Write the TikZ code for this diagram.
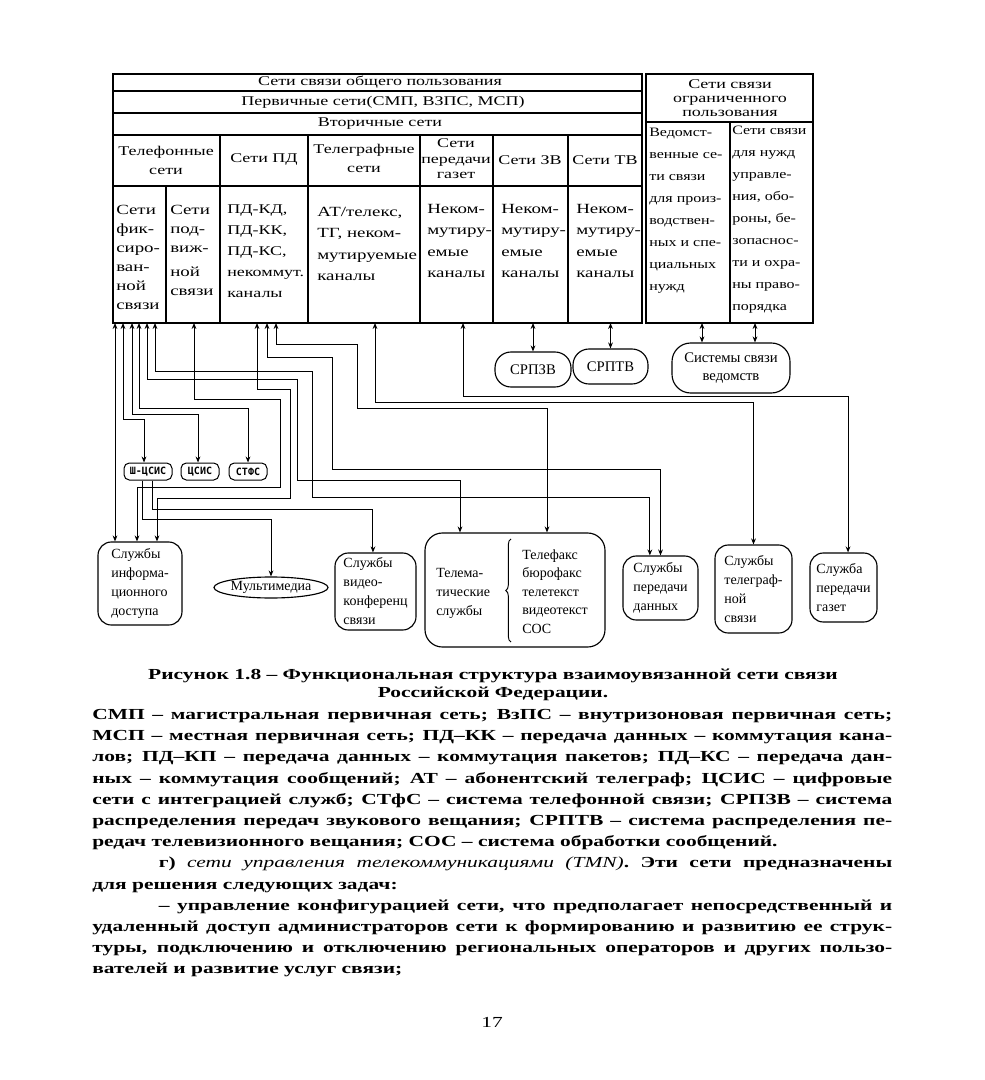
\documentclass[tikz,border=0pt]{standalone}
\usepackage{fontspec}
\setmainfont{Liberation Serif}
\newfontfamily\dfont{Liberation Serif}[FakeStretch=1.35]
\newfontfamily\rfont{Liberation Serif}[FakeStretch=1.25]
\newfontfamily\pfont{Liberation Serif}[FakeStretch=1.4]
\newfontfamily\mfont{DejaVu Sans Mono}
\usetikzlibrary{arrows.meta,shapes.geometric,calc,decorations.pathreplacing}
\begin{document}
\begin{tikzpicture}[x=0.75pt,y=-0.75pt,
  every node/.style={inner sep=0pt},
  tab/.style={line width=0.85pt},
  hd/.style={font={\dfont\fontsize{10}{#1}\selectfont}, align=center},
  hd/.default=14.25,
  cell/.style={font={\dfont\fontsize{10.5}{#1}\selectfont}, align=left, anchor=north west},
  ncell/.style={font={\dfont\fontsize{10}{#1}\selectfont}, align=left, anchor=north west},
  rcell/.style={font={\rfont\fontsize{9.6}{#1}\selectfont}, align=left, anchor=north west},
  bt/.style={font={\fontsize{10.5}{14.25}\selectfont}, align=left},
  rbox/.style={draw, line width=0.85pt, rounded corners=#1},
  rbox/.default=10pt,
  sm/.style={draw, line width=0.75pt, rounded corners=4pt, minimum height=12.75pt, font={\mfont\bfseries\fontsize{7.5}{8}\selectfont}},
  tip/.tip={Stealth[length=4.5pt,width=3.6pt]},
  bi/.style={line width=0.75pt, tip-tip},
  one/.style={line width=0.75pt, -tip}
]
\useasboundingbox[fill=white] (0,0) rectangle (984,1080);

% ---------- public networks table ----------
\draw[tab] (113,74) rectangle (642,323);
\draw[tab] (113,91) -- (642,91) (113,113) -- (642,113) (113,135) -- (642,135) (113,186) -- (642,186);
\draw[tab] (220,135) -- (220,323) (308,135) -- (308,323) (420,135) -- (420,323)
           (493,135) -- (493,323) (568,135) -- (568,323) (166,186) -- (166,323);
\node[hd] (pub) at (380,82) {Сети связи общего пользования};
\node[hd] (prim) at (383,102) {Первичные сети(СМП, ВЗПС, МСП)};
\node[hd] (sec) at (380,124) {Вторичные сети};
\node[hd] (hTel) at (166,160) {Телефонные\\сети};
\node[hd] (hPD) at (264,160) {Сети ПД};
\node[hd] (hTg) at (364,158) {Телеграфные\\сети};
\node[hd=11.6] (hGaz) at (456,159) {Сети\\передачи\\газет};
\node[hd] (hZV) at (530,160) {Сети ЗВ};
\node[hd] (hTV) at (605,160) {Сети ТВ};

\node[cell=14.25] (cFix) at (116,205) {Сети\\фик-\\сиро-\\ван-\\ной\\связи};
\node[cell=14.25] (cMob) at (170,205) {Сети\\под-\\виж-\\[4pt]ной\\связи};
\node[ncell=15.75] (cPD) at (227,205) {ПД-КД,\\ПД-КК,\\ПД-КС,\\некоммут.\\каналы};
\node[cell=16] (cTg) at (317,207) {АТ/телекс,\\ТГ, неком-\\мутируемые\\каналы};
\node[cell=16] (cGaz) at (427,204) {Неком-\\мутиру-\\емые\\каналы};
\node[cell=16] (cZV) at (501,204) {Неком-\\мутиру-\\емые\\каналы};
\node[cell=16] (cTV) at (576,204) {Неком-\\мутиру-\\емые\\каналы};

% ---------- restricted networks table ----------
\draw[tab] (646,74) rectangle (813,323);
\draw[tab] (646,122) -- (813,122) (730,122) -- (730,323);
\node[hd=10.5] (restr) at (730,98) {Сети связи\\ограниченного\\пользования};
\node[rcell=16.5] (cDep) at (649,128) {Ведомст-\\венные се-\\ти связи\\для произ-\\водствен-\\ных и спе-\\циальных\\нужд};
\node[rcell=16.5] (cGov) at (732,126) {Сети связи\\для нужд\\управле-\\ния, обо-\\роны, бе-\\зопаснос-\\ти и охра-\\ны право-\\порядка};

% ---------- table exits ----------
\coordinate (a1) at (115,323);
\coordinate (a2) at (123,323);
\coordinate (a3) at (132,323);
\coordinate (a4) at (139,323);
\coordinate (a5) at (147,323);
\coordinate (a6) at (155,323);
\coordinate (b1) at (194,323);
\coordinate (c1) at (257,323);
\coordinate (c2) at (267,323);
\coordinate (c3) at (276,323);
\coordinate (d1) at (375,323);
\coordinate (e1) at (463,323);

% ---------- upper service systems ----------
\node[rbox=12pt, minimum width=57pt, minimum height=26.25pt, font={\fontsize{11}{12}\selectfont}] (zv) at (533,369.5) {СРПЗВ};
\node[rbox=12pt, minimum width=56.25pt, minimum height=26.25pt, font={\fontsize{11}{12}\selectfont}] (tv) at (610.5,366.5) {СРПТВ};
\node[rbox=14pt, minimum width=88.5pt, minimum height=37.5pt, align=center, font={\fontsize{11}{13.5}\selectfont}] (ved) at (731,368) {Системы связи\\ведомств};

% ---------- ISDN nodes ----------
\node[sm, minimum width=36pt] (sh) at (148,471.5) {Ш-ЦСИС};
\node[sm, minimum width=28.5pt] (cs) at (200,471.5) {ЦСИС};
\node[sm, minimum width=28.5pt] (stfs) at (248,471.5) {СТФС};

% ---------- services ----------
\node[rbox=10pt, minimum width=63pt, minimum height=62.25pt, bt] (info) at (140,583.5) {Службы\\информа-\\ционного\\доступа};
\node[draw, ellipse, line width=0.85pt, minimum width=81pt, minimum height=15.75pt, font={\fontsize{10.5}{11}\selectfont}] (mm) at (271,587.5) {Мультимедиа};
\node[rbox=10pt, minimum width=60.75pt, minimum height=57.75pt, bt] (vc) at (375.5,591.5) {Службы\\видео-\\конференц\\связи};
\node[rbox=13pt, minimum width=135pt, minimum height=85.5pt] (tel) at (515,590) {};
\node[bt, anchor=west] (telL) at (436,593) {Телема-\\тические\\службы};
\node[bt, anchor=west, font={\fontsize{10.5}{13.8}\selectfont}] (telR) at (522,591.5) {Телефакс\\бюрофакс\\телетекст\\видеотекст\\СОС};
\draw[decorate, decoration={brace, amplitude=4pt}, line width=0.7pt] (511,642) -- (511,539);
\node[rbox=10pt, minimum width=56.25pt, minimum height=48pt, bt] (pd) at (660.5,588) {Службы\\передачи\\данных};
\node[rbox=10pt, minimum width=57.75pt, minimum height=66pt, bt] (tg) at (753.5,589) {Службы\\телеграф-\\ной\\связи};
\node[rbox=10pt, minimum width=50.25pt, minimum height=51.75pt, bt] (gaz) at (843.5,587.5) {Служба\\передачи\\газет};

% ---------- connectors ----------
\draw[bi] (a1) -- (a1 |- info.north);
\draw[bi] (a2) -- ++(0,96) -| ([xshift=-3pt]sh.north);
\draw[bi] (a3) -- ++(0,91) -| ([xshift=-1.5pt]cs.north);
\draw[bi] (a4) -- ++(0,85) -| (stfs.north);
\draw[bi] (a5) -- ++(0,56) -- ++(150,0) -- ++(0,101) -| ([xshift=-41.25pt]tel.north);
\draw[bi] (a6) -- ++(0,48) -- ++(157,0) -- ++(0,126) -| ([xshift=-8pt]pd.north);
\draw[bi] (b1) -- ++(0,76) -- ++(86,0) -- ++(0,88) -| ([xshift=-2.25pt]info.north);
\draw[bi] (c1) -- ++(0,66) -- ++(33,0) -- ++(0,109) -| ([xshift=12.75pt]info.north);
\draw[bi] (c2) -- ++(0,34) -- ++(65,0) -- ++(0,112) -| (pd.north);
\draw[bi] (c3) -- ++(0,21) -- ++(81,0) -- ++(0,64) -| ([xshift=24pt]tel.north);
\draw[bi] (d1) -- ++(0,79) -| (tg.north);
\draw[bi] (e1) -- ++(0,73) -| ([xshift=3.4pt]gaz.north);
\draw[one] ([xshift=-4.5pt]sh.south) -- ++(0,39) -| (mm.north);
\draw[one] ([xshift=3pt]sh.south) -- ++(0,29) -| ([xshift=-1.9pt]vc.north);
\draw[bi] (zv.north |- a1) -- (zv.north);
\draw[bi] (tv.north |- a1) -- (tv.north);
\coordinate (v1) at ($(ved.north)+(-29,0)$);
\coordinate (v2) at ($(ved.north)+(24,0)$);
\draw[bi] (v1 |- a1) -- (v1);
\draw[bi] (v2 |- a1) -- (v2);

% ---------- caption and text ----------
\node[align=center, font={\pfont\bfseries\fontsize{11.5}{13}\selectfont}] (cap) at (493,685)
 {Рисунок 1.8 – Функциональная структура взаимоувязанной сети связи\\Российской Федерации.};
\node[anchor=north west, align=left, font={\pfont\bfseries\fontsize{11.5}{15.9}\selectfont}] (para) at (92,709) {%
\makebox[600pt][s]{СМП – магистральная первичная сеть; ВзПС – внутризоновая первичная сеть;}\\
\makebox[600pt][s]{МСП – местная первичная сеть; ПД–КК – передача данных – коммутация кана-}\\
\makebox[600pt][s]{лов; ПД–КП – передача данных – коммутация пакетов; ПД–КС – передача дан-}\\
\makebox[600pt][s]{ных – коммутация сообщений; АТ – абонентский телеграф; ЦСИС – цифровые}\\
\makebox[600pt][s]{сети с интеграцией служб; СТфС – система телефонной связи; СРПЗВ – система}\\
\makebox[600pt][s]{распределения передач звукового вещания; СРПТВ – система распределения пе-}\\
\makebox[600pt][l]{редач телевизионного вещания; СОС – система обработки сообщений.}\\
\makebox[600pt][s]{\hspace*{50pt}г) {\mdseries\itshape сети управления телекоммуникациями (TMN)}. Эти сети предназначены}\\
\makebox[600pt][l]{для решения следующих задач:}\\
\makebox[600pt][s]{\hspace*{50pt}– управление конфигурацией сети, что предполагает непосредственный и}\\
\makebox[600pt][s]{удаленный доступ администраторов сети к формированию и развитию ее струк-}\\
\makebox[600pt][s]{туры, подключению и отключению региональных операторов и других пользо-}\\
\makebox[600pt][l]{вателей и развитие услуг связи;}};
\node[font={\pfont\fontsize{11.5}{14}\selectfont}] (pg) at (492,1022) {17};
\end{tikzpicture}
\end{document}
